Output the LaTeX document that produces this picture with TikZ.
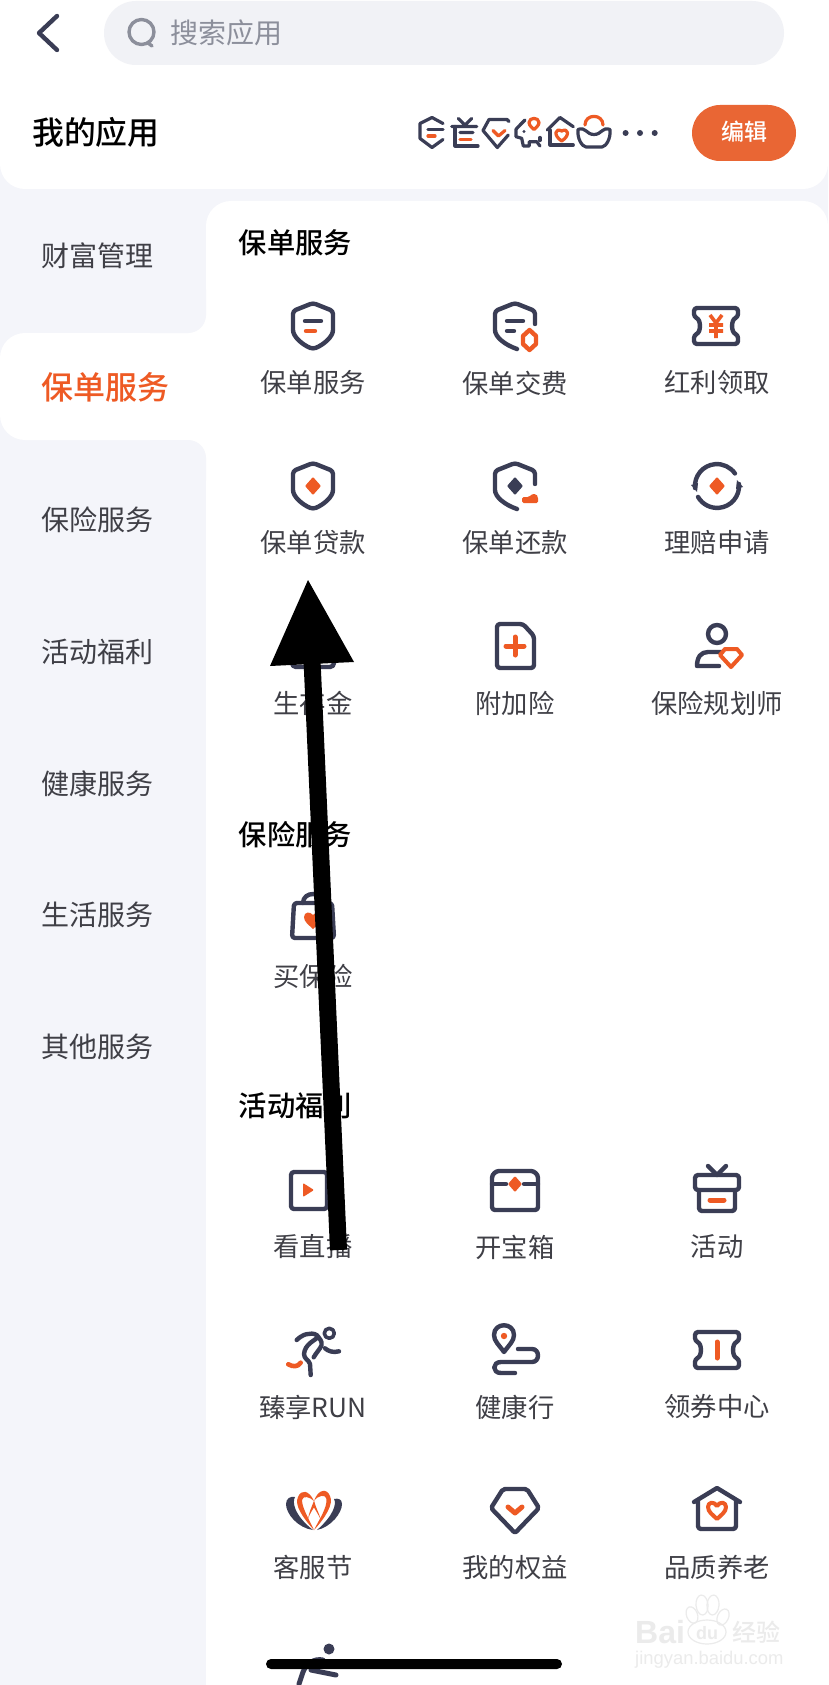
\documentclass[tikz,border=0pt]{standalone}
\usepackage{fontspec}
\setmainfont{Noto Sans CJK SC}[BoldFont={Noto Sans CJK SC Medium}]
\newfontfamily\wmlatin{Liberation Sans}
\definecolor{ink}{HTML}{3A3D55}
\definecolor{hot}{HTML}{EE5A24}
\definecolor{pagebg}{HTML}{F4F5FA}
\definecolor{searchbg}{HTML}{F1F2F6}
\definecolor{greytext}{HTML}{8C8F9B}
\definecolor{labeltext}{HTML}{3F3F46}
\definecolor{editbg}{HTML}{E96634}
\definecolor{wm}{HTML}{EBEBEB}
\tikzset{
 inkline/.style={draw=ink,line width=4.4pt,line cap=round,line join=round},
 hotline/.style={draw=hot,line width=4.4pt,line cap=round,line join=round},
 inkmini/.style={draw=ink,line width=3.2pt,line cap=round,line join=round},
 hotmini/.style={draw=hot,line width=3.2pt,line cap=round,line join=round},
 lab/.style={inner sep=0pt,text=labeltext,font=\fontsize{26.3}{27}\selectfont},
 tab/.style={inner sep=0pt,anchor=west,text=labeltext,font=\fontsize{28}{28}\selectfont},
 head/.style={inner sep=0pt,anchor=west,text=black,font=\fontsize{28.3}{29}\selectfont\bfseries},
 pics/shieldfull/.style={code={\draw[inkline,rounded corners=3pt] (0,-23) -- (20,-15) -- (20,1) .. controls (20,11) and (10,19) .. (0,23) .. controls (-10,19) and (-20,11) .. (-20,1) -- (-20,-15) -- cycle;}},
 pics/shieldopen/.style={code={\draw[inkline,rounded corners=3pt] (20,-2) -- (20,-15) -- (0,-23) -- (-20,-15) -- (-20,1) .. controls (-20,11) and (-10,19) .. (2,23);}},
 pics/ticketbody/.style={code={\draw[inkline,rounded corners=3pt] (-22,-18) -- (22,-18) -- (22,-9) .. controls (15,-6) and (15,6) .. (22,9) -- (22,18) -- (-22,18) -- (-22,9) .. controls (-15,6) and (-15,-6) .. (-22,-9) -- cycle;}},
 pics/ipolicy/.style={code={\pic {shieldfull};\draw[inkline] (-8,-5)--(8,-5);\draw[hotline] (-7,5)--(2,5);}},
 pics/ipay/.style={code={\pic {shieldopen};\draw[inkline] (-8,-5)--(8,-5) (-8,5)--(-1,5);\draw[hotline] (14.5,4)--(21,10)--(21,18)--(14.5,24)--(8,18)--(8,10)--cycle;}},
 pics/ibonus/.style={code={\pic {ticketbody};\draw[hotline,line width=3.6pt,line cap=butt] (-6,-11)--(0,-3)--(6,-11) (0,-3)--(0,12) (-7,-1)--(7,-1) (-7,5)--(7,5);}},
 pics/iloan/.style={code={\pic {shieldfull};\fill[hot,rounded corners=1pt] (0,-9)--(8,0)--(0,9)--(-8,0)--cycle;}},
 pics/irepay/.style={code={\pic {shieldopen};\fill[ink,rounded corners=1pt] (0,-9)--(8,0)--(0,9)--(-8,0)--cycle;\fill[hot,rounded corners=1.5pt] (7,17)--(7,11)--(14,11)--(17,8)--(21,8)--(23,11)--(23,17)--cycle;}},
 pics/iclaim/.style={code={\draw[inkline] (-22,2) arc[start angle=185,end angle=35,radius=22pt];\draw[inkline] (22,-2) arc[start angle=5,end angle=-150,radius=22pt];\fill[ink] (-26,-1)--(-19,-3)--(-20,6)--cycle;\fill[ink] (26,1)--(19,3)--(20,-6)--cycle;\fill[hot,rounded corners=1pt] (0,-9)--(8,0)--(0,9)--(-8,0)--cycle;}},
 pics/iannuity/.style={code={\draw[inkline,rounded corners=4pt] (-21,-18) rectangle (21,21);}},
 pics/irider/.style={code={\draw[inkline,rounded corners=3pt] (-18,-22)--(8,-22)--(19,-10)--(19,22)--(-18,22)--cycle;\draw[hotline,line width=5pt] (0,-9)--(0,9) (-9,0)--(9,0);}},
 pics/iplanner/.style={code={\draw[inkline] (0,-12) circle (9pt);\draw[inkline] (5,6)--(-9,6) .. controls (-16,6) and (-20,11) .. (-20,20) -- (2,20);\draw[hotline,line width=4pt] (8,3)--(20,3)--(25,9)--(14,21)--(3,9)--cycle;}},
 pics/ibag/.style={code={\draw[inkline,rounded corners=3pt] (-19,-13)--(19,-13)--(21,22)--(-21,22)--cycle;\draw[inkline] (-10,-13) .. controls (-10,-25) and (10,-25) .. (10,-13);\fill[hot] (0,13) .. controls (-4,9) and (-9,6) .. (-9,1) .. controls (-9,-4) and (-3,-5) .. (0,-1) .. controls (3,-5) and (9,-4) .. (9,1) .. controls (9,6) and (4,9) .. (0,13) -- cycle;}},
 pics/ilive/.style={code={\draw[inkline,rounded corners=3pt] (-22,-18) rectangle (14,19);\fill[hot,rounded corners=1pt] (-10,-7)--(1,0)--(-10,7)--cycle;}},
 pics/ichest/.style={code={\draw[inkline,rounded corners=3pt] (-23,-9) .. controls (-23,-16) and (-19,-19) .. (-13,-19)--(13,-19) .. controls (19,-19) and (23,-16) .. (23,-9)--(23,20)--(-23,20)--cycle;\draw[inkline] (-23,-6)--(-9,-6) (9,-6)--(23,-6);\fill[hot,rounded corners=1pt] (0,-14)--(7,-6)--(0,2)--(-7,-6)--cycle;}},
 pics/igift/.style={code={\draw[inkline,rounded corners=3pt] (-22,-15) rectangle (22,0);\draw[inkline,rounded corners=3pt] (-18,0)--(-18,21)--(18,21)--(18,0);\draw[inkline] (-9,-24)--(0,-15)--(9,-24);\draw[hotline,line width=5pt] (-7,10)--(7,10);}},
 pics/irun/.style={code={\draw[inkline,line width=3.6pt] (16.3,-18.7) circle (5pt);\draw[inkline] (-16.3,-12) .. controls (-11,-17) and (-7,-18) .. (-4.7,-18) .. controls (0,-19) and (4,-18) .. (5.3,-15) .. controls (1,-11) and (-8,-8) .. (-9,2) .. controls (-9,7) and (-4,8) .. (-3,12) -- (-2.3,23);\draw[inkline] (5.3,-15) .. controls (9,-11) and (9,-8) .. (8.5,-6.5) .. controls (7,-3) and (3,1) .. (0.7,5.3);\draw[inkline] (12,-3.7) .. controls (15,-1) and (20,1) .. (26,-0.7);\draw[hotline,line width=4.6pt] (-24.7,12.3) .. controls (-20,15) and (-15,15) .. (-12.3,10.7);}},
 pics/iwalk/.style={code={\draw[inkline] (-11,0) .. controls (-16,-7) and (-21,-11) .. (-21,-17) .. controls (-21,-30) and (-1,-30) .. (-1,-17) .. controls (-1,-11) and (-6,-7) .. (-11,0) -- cycle;\fill[hot] (-11,-16) circle (3.2pt);\draw[inkline] (3,-3)--(17,-3) .. controls (25,-3) and (25,10) .. (17,10) -- (-14,10) .. controls (-23,10) and (-23,21) .. (-14,21) -- (0,21);}},
 pics/ivoucher/.style={code={\pic {ticketbody};\draw[hotline,line width=5pt] (0,-8)--(0,8);}},
 pics/iflower/.style={code={
  \fill[ink] (0,20) .. controls (-15,18) and (-27,4) .. (-27,-6) .. controls (-27,-12) and (-22,-14) .. (-18,-13) .. controls (-21,-8) and (-19,5) .. (0,20) -- cycle;
  \fill[ink] (4,20) .. controls (18,17) and (29,3) .. (29,-6) .. controls (29,-11) and (25,-12) .. (21,-11) .. controls (24,-6) and (20,6) .. (4,20) -- cycle;
  \fill[hot] (1,20) .. controls (-10,8) and (-19,-5) .. (-15,-13) .. controls (-12,-21) and (-4,-20) .. (1,-9) .. controls (-3,-13) and (-10,-15) .. (-11,-10) .. controls (-11,-2) and (-4,9) .. (1,20) -- cycle;
  \fill[hot] (1,20) .. controls (12,8) and (21,-6) .. (17,-14) .. controls (14,-22) and (5,-21) .. (1,-9) .. controls (5,-15) and (13,-16) .. (13.5,-11) .. controls (14,-2) and (7,8) .. (1,20) -- cycle;
  \fill[hot] (1,-9) .. controls (-2,-2) and (-4,3) .. (-5,9) .. controls (-3,3) and (0,-1) .. (2,-4) -- cycle;
  \fill[hot] (1,-9) .. controls (3,-2) and (6,3) .. (8,10) .. controls (5,4) and (2,-1) .. (0,-4) -- cycle;}},
 pics/igem/.style={code={\draw[inkline,rounded corners=2pt] (-12,-22)--(12,-22)--(24,-3)--(0,22)--(-24,-3)--cycle;\draw[hotline,line width=5pt] (-7,-4)--(0,2)--(7,-4);}},
 pics/ihouse/.style={code={\draw[inkline] (-23,-8)--(0,-22)--(23,-8);\draw[inkline,rounded corners=3pt] (-19,-9)--(-19,19)--(19,19)--(19,-9);\draw[hotline,line width=4pt] (0,9) .. controls (-4,5) and (-9,2) .. (-9,-3) .. controls (-9,-8) and (-3,-9) .. (0,-4) .. controls (3,-9) and (9,-8) .. (9,-3) .. controls (9,2) and (4,5) .. (0,9) -- cycle;}},
 pics/minia/.style={code={\draw[inkmini] (11,-9)--(0,-15)--(-12,-9)--(-12,6)--(0,15)--(11,7);\draw[inkmini] (-4,-3)--(11,-3);\draw[hotmini] (-4,3.5)--(3,3.5);}},
 pics/minib/.style={code={\draw[inkmini] (-5.7,-14)--(1,-7.5)--(7.7,-14) (-12.3,-6)--(12.7,-6) (-4,0)--(9,0);\draw[inkmini] (-9,-6)--(-9,13.5)--(14,13.5);\draw[hotmini] (-4,6.8)--(7,6.8);}},
 pics/minic/.style={code={\draw[inkmini] (13,-11)--(11,-13)--(-7,-13)--(-13,-2)--(1.3,15)--(12.3,2.5);\draw[hotmini] (-3,-2)--(2.5,3.5)--(9,-2);}},
 pics/minid/.style={code={\draw[inkmini] (-3.3,-12.5)--(-8.3,-7.5)--(-12.3,-3.2)--(-12.3,4.2)--(-6.6,5.8)--(-5,13.5)--(1,13.5)--(1,9.2)--(8.4,9.2)--(11.7,13.5);\draw[inkmini] (11.7,5)--(11.7,8);\fill[ink] (-4.3,-1) circle (1.6pt);\draw[hotmini] (5.7,-3) .. controls (1,-7) and (0.5,-9) .. (0.7,-10) .. controls (1,-15.5) and (10.4,-15.5) .. (10.7,-10) .. controls (10.9,-9) and (10.4,-7) .. (5.7,-3) -- cycle;}},
 pics/minie/.style={code={\draw[inkmini] (-12.7,-2.5)--(0,-15)--(13.3,-5.8);\draw[inkmini] (-10,-2.5)--(-10,12.5)--(13.3,12.5);\draw[hotmini] (1.7,8.5) .. controls (-7,3) and (-5,-5) .. (1.7,-1.5) .. controls (8.4,-5) and (10.4,3) .. (1.7,8.5) -- cycle;}},
 pics/minif/.style={code={\draw[hotmini] (-9,-7.5) .. controls (-9,-19) and (9,-19) .. (9,-7.5);\draw[inkmini] (-16,-3) .. controls (-8,-6) and (-8,2) .. (0,2) .. controls (8,2) and (8,-6) .. (16,-3) .. controls (17,6) and (12,14) .. (8,14.5) -- (-8,14.5) .. controls (-12,14) and (-17,6) .. (-16,-3) -- cycle;}},
}
\begin{document}
\begin{tikzpicture}[x=1pt,y=-1pt]
\useasboundingbox (0,0) rectangle (828,1685);
\fill[pagebg] (0,0) rectangle (828,1685);
% top panel
\fill[white] (0,0)--(828,0)--(828,164) arc[start angle=0,end angle=-90,radius=25pt]--(25,189) arc[start angle=270,end angle=180,radius=25pt]--cycle;
% content panel
\fill[white] (206,1685)--(206,226) arc[start angle=180,end angle=90,radius=25pt]--(803,201) arc[start angle=90,end angle=0,radius=25pt]--(828,1685)--cycle;
% selected tab
\fill[white] (170,310) rectangle (206,460);
\fill[white] (0,358) arc[start angle=180,end angle=90,radius=25pt]--(206,333)--(206,440)--(25,440) arc[start angle=270,end angle=180,radius=25pt]--cycle;
\fill[pagebg] (150,290)--(206,290)--(206,315) arc[start angle=0,end angle=-90,radius=18pt]--(150,333)--cycle;
\fill[pagebg] (150,480)--(206,480)--(206,458) arc[start angle=0,end angle=90,radius=18pt]--(150,440)--cycle;
% search bar
\fill[searchbg,rounded corners=32pt] (104,1) rectangle (784,65);
\coordinate (bk1) at (57,16);\coordinate (bk2) at (39,33);\coordinate (bk3) at (57,50);
\draw[inkline] (bk1)--(bk2)--(bk3);
\draw[draw=greytext,line width=3.4pt] (141.5,32) circle (12.5pt);
\draw[draw=greytext,line width=3.4pt,line cap=round] (148,43)--(152,46);
\node[inner sep=0pt,anchor=west,text=greytext,font=\fontsize{28}{28}\selectfont] (search) at (170.5,33) {搜索应用};
% my apps
\node[inner sep=0pt,anchor=west,text=black,font=\fontsize{31.8}{32}\selectfont\bfseries] (myapps) at (32,132) {我的应用};
\pic at (432,132.5) {minia};
\pic at (464,132.5) {minib};
\pic at (496,132.5) {minic};
\pic at (528.3,132.5) {minid};
\pic at (560,132.5) {minie};
\pic at (594,132.5) {minif};
\fill[ink] (625.6,133) circle (3pt) (640,133) circle (3pt) (654.7,133) circle (3pt);
\fill[editbg,rounded corners=28pt] (692,105) rectangle (796,161);
\node[inner sep=0pt,text=white,font=\fontsize{23}{23}\selectfont\bfseries] (edit) at (744,132) {编辑};
% side tabs
\node[tab] (t1) at (41,256) {财富管理};
\node[inner sep=0pt,anchor=west,text=hot,font=\fontsize{32}{32}\selectfont\bfseries] (t2) at (41,387) {保单服务};
\node[tab] (t3) at (41,520) {保险服务};
\node[tab] (t4) at (41,652) {活动福利};
\node[tab] (t5) at (41,784) {健康服务};
\node[tab] (t6) at (41,915) {生活服务};
\node[tab] (t7) at (41,1047) {其他服务};
% headers
\node[head] (h1) at (238.5,243) {保单服务};
\node[head] (h2) at (238.5,835) {保险服务};
\node[head] (h3) at (238.5,1106) {活动福利};
% icons and labels
\pic at (313,326) {ipolicy};
\pic at (515,326) {ipay};
\pic at (716,326) {ibonus};
\node[lab] (a1) at (313,383) {保单服务};
\node[lab] (a2) at (515,383) {保单交费};
\node[lab] (a3) at (717,383) {红利领取};
\pic at (313,486) {iloan};
\pic at (515,486) {irepay};
\pic at (717,486) {iclaim};
\node[lab] (b1) at (313,543) {保单贷款};
\node[lab] (b2) at (515,543) {保单还款};
\node[lab] (b3) at (717,543) {理赔申请};
\pic at (313,646) {iannuity};
\pic at (515,646) {irider};
\pic at (717,646) {iplanner};
\node[lab] (c1) at (313,703) {生存金};
\node[lab] (c2) at (515,703) {附加险};
\node[lab] (c3) at (717,703) {保险规划师};
\pic at (313,916) {ibag};
\node[lab] (d1) at (313,976) {买保险};
\pic at (313,1190) {ilive};
\pic at (515,1190) {ichest};
\pic at (717,1190) {igift};
\node[lab] (e1) at (313,1247) {看直播};
\node[lab] (e2) at (515,1247) {开宝箱};
\node[lab] (e3) at (717,1247) {活动};
\pic at (313,1352) {irun};
\pic at (515,1352) {iwalk};
\pic at (717,1350) {ivoucher};
\node[lab] (f1) at (313,1407) {臻享RUN};
\node[lab] (f2) at (515,1407) {健康行};
\node[lab] (f3) at (717,1407) {领券中心};
\pic at (313,1510) {iflower};
\pic at (515,1511) {igem};
\pic at (717,1510) {ihouse};
\node[lab] (g1) at (313,1567) {客服节};
\node[lab] (g2) at (515,1567) {我的权益};
\node[lab] (g3) at (717,1567) {品质养老};
% partial icon at the bottom
\fill[ink] (329,1649) circle (5.5pt);
\draw[inkline,line width=5pt] (299,1684)--(303,1672) .. controls (306,1664) and (314,1658) .. (323,1660);
\draw[inkline,line width=5pt] (311,1670)--(336,1675);
% watermark
\draw[draw=wm,line width=1.2pt] (707,1632) ellipse [x radius=19pt,y radius=12pt];
\foreach \p/\q/\a/\b/\c in {692/1615/5.5/8.5/20,702/1605/6/10/5,713/1605/6/10/-5,723/1617/5.5/8.5/-25}{
 \draw[draw=wm,line width=1.2pt] (\p,\q) ellipse [x radius=\b pt,y radius=\a pt,rotate=\c+90];}
\node[inner sep=0pt,anchor=west,text=wm,font=\wmlatin\fontsize{32}{32}\selectfont\bfseries] (wm1) at (635,1632) {Bai};
\node[inner sep=0pt,text=wm,font=\wmlatin\fontsize{18}{18}\selectfont\bfseries] (wm2) at (707,1633) {du};
\node[inner sep=0pt,anchor=west,text=wm,font=\fontsize{24}{24}\selectfont\bfseries] (wm3) at (732,1632) {经验};
\node[inner sep=0pt,anchor=west,text=wm,font=\wmlatin\fontsize{18.4}{19}\selectfont] (wm4) at (635,1660) {jingyan.baidu.com};
% home bar
\fill[black,rounded corners=5pt] (266,1659) rectangle (562,1669);
% arrow
\coordinate (arrowtail) at (338.5,1250);
\coordinate (arrowneck) at (312,660);
\coordinate (arrowtip) at (308,580);
\coordinate (arrowl) at (270,666);
\coordinate (arrowr) at (354,662);
\draw[black,line width=17pt] (arrowtail)--(arrowneck);
\fill[black] (arrowtip)--(arrowr)--(arrowl)--cycle;
\end{tikzpicture}
\end{document}
